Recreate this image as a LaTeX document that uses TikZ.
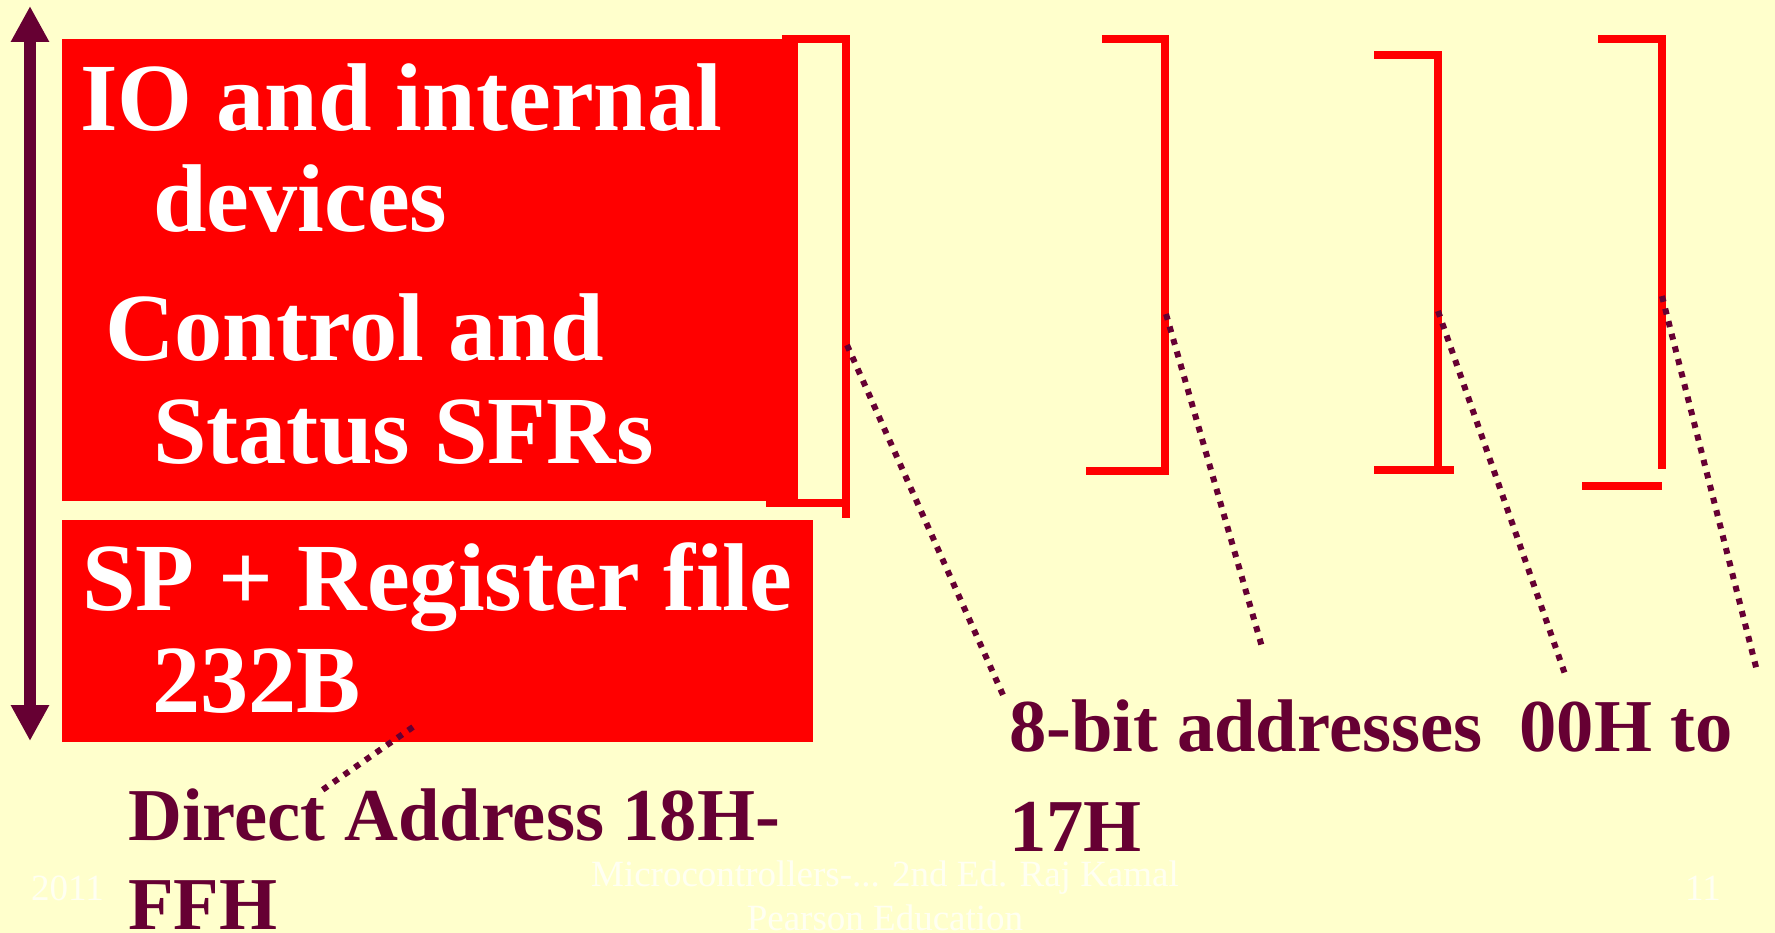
\documentclass[tikz,border=0pt]{standalone}
\usepackage{fontspec}
\setmainfont{Liberation Serif}
\usetikzlibrary{arrows.meta}
\definecolor{slidebg}{HTML}{FFFFCC}
\definecolor{maroon}{HTML}{660033}
\definecolor{boxred}{HTML}{FF0000}
\definecolor{footer}{HTML}{FFFFF2}

\begin{document}
\begin{tikzpicture}[x=1pt,y=-1pt,
  redbox/.style={fill=boxred, draw=none, inner sep=0pt, anchor=north west},
  bracketline/.style={draw=boxred, line width=7.5pt, line join=miter},
  leader/.style={draw=maroon, line width=6pt, dash pattern=on 6pt off 7pt},
  whitetext/.style={text=white, font=\fontsize{96.3}{100}\selectfont\bfseries, inner sep=0pt, anchor=base west},
  labeltext/.style={text=maroon, font=\fontsize{74.6}{80}\selectfont\bfseries, inner sep=0pt, anchor=base west},
  foottext/.style={text=footer, font=\fontsize{37}{40}\selectfont, inner sep=0pt}
]
% slide background
\fill[slidebg] (0,0) rectangle (1775,933);
\useasboundingbox (0,0) rectangle (1775,933);

% address-range arrow on the left
\coordinate (arrtop) at (30,6);
\coordinate (arrbot) at (30,741);
\draw[maroon, line width=12pt, {Triangle[length=36pt,width=36pt]}-{Triangle[length=36pt,width=36pt]}] (arrbot) -- (arrtop);

% memory blocks
\node[redbox, minimum width=736pt, minimum height=462pt] (upperbox) at (62,39) {};
\node[redbox, minimum width=751pt, minimum height=222pt] (lowerbox) at (62,520) {};

% brackets
\draw[bracketline] (782,39) -- (846,39) -- (846,518);
\draw[bracketline] (766,503) -- (846,503);
\draw[bracketline] (1102,39) -- (1165,39) -- (1165,471) -- (1086,471);
\draw[bracketline] (1374,55) -- (1438,55) -- (1438,470);
\draw[bracketline] (1374,470) -- (1454,470);
\draw[bracketline] (1598,39) -- (1662,39) -- (1662,469);
\draw[bracketline] (1582,486) -- (1662,486);

% block labels
\node[whitetext] (io) at (80,131) {IO and internal};
\node[whitetext] (dev) at (153,232) {devices};
\node[whitetext] (ctl) at (105,360) {Control and};
\node[whitetext] (sts) at (153,463) {Status SFRs};
\node[whitetext] (sp) at (82,610) {SP + Register file};
\node[whitetext] (sz) at (152,712) {232B};

% address labels
\node[labeltext] (da) at (128,840) {Direct Address 18H-};
\node[labeltext] (ffh) at (128,929) {FFH};
\node[labeltext] (eb) at (1009,751) {8-bit addresses\ \ 00H to};
\node[labeltext] (h17) at (1009,851) {17H};

% leader lines
\coordinate (b1) at (847,345);  \coordinate (e1) at (1003,695);
\coordinate (b2) at (1166,314); \coordinate (e2) at (1262,647);
\coordinate (b3) at (1438,311); \coordinate (e3) at (1566,677);
\coordinate (b4) at (1662,296); \coordinate (e4) at (1757,671);
\coordinate (b5) at (413,727);  \coordinate (e5) at (318,793);
\draw[leader] (b1) -- (e1);
\draw[leader] (b2) -- (e2);
\draw[leader] (b3) -- (e3);
\draw[leader] (b4) -- (e4);
\draw[leader] (b5) -- (e5);

% footer
\node[foottext, anchor=base west] (yr) at (31,900) {2011};
\node[foottext, anchor=base] (bk1) at (885,886) {Microcontrollers-... 2nd Ed. Raj Kamal};
\node[foottext, anchor=base] (bk2) at (885,930) {Pearson Education};
\node[foottext, anchor=base west] (pg) at (1685,900) {11};
\end{tikzpicture}
\end{document}
